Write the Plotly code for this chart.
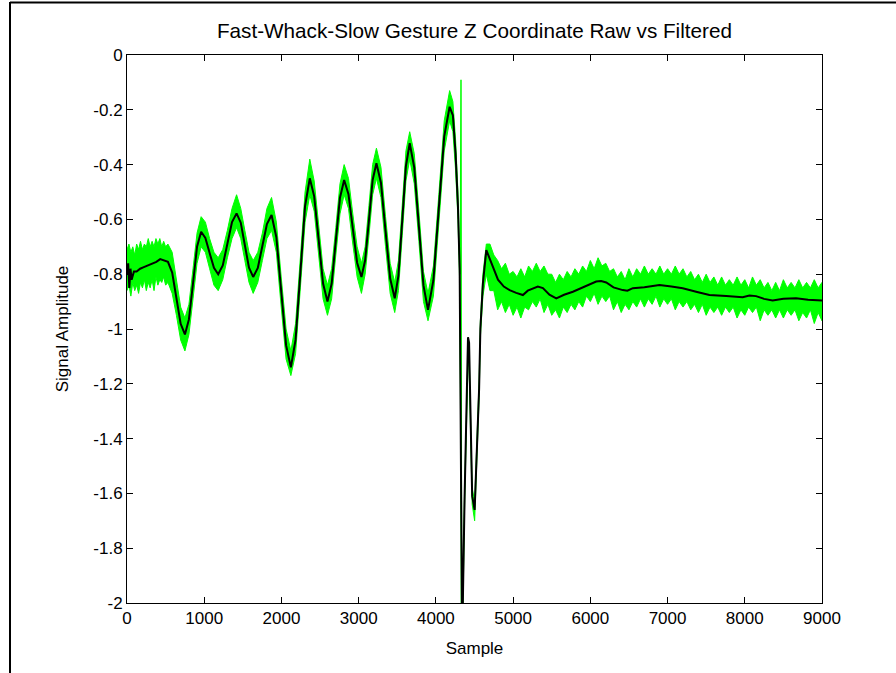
import plotly.graph_objects as go

# ---- Filtered (smoothed) Z coordinate: sample index and amplitude ----
filt_sample = [0, 15, 30, 45, 60, 90, 125, 170, 210, 250, 300, 340, 380, 430, 480,
               530, 585, 640, 695, 750, 802, 855, 907, 960, 1015, 1070, 1126, 1181,
               1240, 1300, 1360, 1419, 1473, 1526, 1580, 1634, 1694, 1753, 1812, 1872,
               1934, 1997, 2060, 2122, 2183, 2245, 2306, 2367, 2424, 2482, 2539, 2596,
               2650, 2704, 2758, 2812, 2868, 2924, 2980, 3036, 3084, 3133, 3181, 3230,
               3289, 3348, 3408, 3467, 3515, 3564, 3612, 3661, 3720, 3780, 3839, 3898,
               3968, 4038, 4108, 4178, 4220, 4255, 4286, 4308, 4325, 4340, 4372, 4394,
               4416, 4430, 4470, 4502, 4530, 4560, 4576, 4609, 4653, 4718, 4760, 4804,
               4880, 4955, 5040, 5127, 5190, 5256, 5320, 5386, 5470, 5559, 5660, 5774,
               5920, 6076, 6140, 6206, 6300, 6420, 6480, 6550, 6700, 6895, 7050, 7197,
               7370, 7542, 7760, 7973, 8060, 8146, 8250, 8361, 8500, 8664, 8820, 9000]
filt_value = [-0.80, -0.76, -0.85, -0.78, -0.82, -0.79, -0.79, -0.78, -0.775, -0.77,
              -0.765, -0.76, -0.755, -0.745, -0.75, -0.755, -0.794, -0.888, -0.981,
              -1.02, -0.965, -0.833, -0.700, -0.645, -0.668, -0.723, -0.777, -0.80,
              -0.768, -0.689, -0.610, -0.578, -0.612, -0.694, -0.776, -0.81, -0.777,
              -0.697, -0.617, -0.584, -0.665, -0.862, -1.059, -1.14, -1.039, -0.795,
              -0.551, -0.45, -0.516, -0.675, -0.834, -0.90, -0.835, -0.678, -0.521,
              -0.456, -0.508, -0.633, -0.758, -0.81, -0.749, -0.603, -0.456, -0.395,
              -0.467, -0.642, -0.816, -0.888, -0.805, -0.605, -0.405, -0.322, -0.411,
              -0.626, -0.841, -0.93, -0.822, -0.560, -0.297, -0.189, -0.22, -0.36,
              -0.553, -0.785, -1.5, -2.15, -1.61, -1.33, -1.03, -1.05, -1.61, -1.66,
              -1.466, -1.216, -1.0, -0.833, -0.712, -0.76, -0.795, -0.82, -0.845,
              -0.858, -0.868, -0.876, -0.86, -0.851, -0.845, -0.851, -0.875, -0.888,
              -0.875, -0.864, -0.845, -0.827, -0.825, -0.83, -0.848, -0.858, -0.86,
              -0.851, -0.848, -0.839, -0.845, -0.851, -0.864, -0.876, -0.88, -0.884,
              -0.878, -0.88, -0.89, -0.896, -0.89, -0.888, -0.893, -0.896]

# ---- Raw Z coordinate: upper / lower extent of the noisy signal ----
raw_sample = [0, 25, 50, 75, 100, 125, 150, 175, 200, 225, 250, 275, 300, 325, 350,
              375, 400, 425, 450, 475, 500, 530, 585, 640, 695, 750, 802, 855, 907,
              960, 1015, 1070, 1126, 1181, 1240, 1300, 1360, 1419, 1473, 1526, 1580,
              1634, 1694, 1753, 1812, 1872, 1934, 1997, 2060, 2122, 2183, 2245, 2306,
              2367, 2424, 2482, 2539, 2596, 2650, 2704, 2758, 2812, 2868, 2924, 2980,
              3036, 3084, 3133, 3181, 3230, 3289, 3348, 3408, 3467, 3515, 3564, 3612,
              3661, 3720, 3780, 3839, 3898, 3968, 4038, 4108, 4178, 4220, 4255, 4286,
              4308, 4325, 4340, 4372, 4394, 4416, 4430, 4470, 4502, 4530, 4560, 4576,
              4609, 4653, 4700, 4750, 4800, 4850, 4900, 4950, 5000, 5050, 5100, 5150,
              5200, 5250, 5300, 5350, 5400, 5450, 5500, 5550, 5600, 5650, 5700, 5750,
              5800, 5850, 5900, 5950, 6000, 6050, 6100, 6150, 6200, 6250, 6300, 6350,
              6400, 6450, 6500, 6550, 6600, 6650, 6700, 6750, 6800, 6850, 6900, 6950,
              7000, 7050, 7100, 7150, 7200, 7250, 7300, 7350, 7400, 7450, 7500, 7550,
              7600, 7650, 7700, 7750, 7800, 7850, 7900, 7950, 8000, 8050, 8100, 8150,
              8200, 8250, 8300, 8350, 8400, 8450, 8500, 8550, 8600, 8650, 8700, 8750,
              8800, 8850, 8900, 8950, 9000]
raw_high = [-0.71, -0.69, -0.72, -0.70, -0.73, -0.69, -0.71, -0.68, -0.71, -0.69, -0.70,
            -0.67, -0.70, -0.68, -0.70, -0.67, -0.69, -0.67, -0.70, -0.68, -0.70, -0.69,
            -0.72, -0.82, -0.92, -0.96, -0.91, -0.78, -0.65, -0.59, -0.61, -0.67, -0.72,
            -0.74, -0.71, -0.64, -0.56, -0.51, -0.56, -0.64, -0.72, -0.75, -0.72, -0.65,
            -0.56, -0.52, -0.61, -0.81, -1.00, -1.08, -0.98, -0.74, -0.50, -0.38, -0.46,
            -0.62, -0.78, -0.84, -0.78, -0.63, -0.47, -0.40, -0.45, -0.58, -0.70, -0.76,
            -0.70, -0.55, -0.40, -0.34, -0.41, -0.59, -0.76, -0.83, -0.75, -0.55, -0.35,
            -0.28, -0.36, -0.57, -0.79, -0.87, -0.77, -0.51, -0.24, -0.13, -0.17, -0.31,
            -0.50, -0.74, -1.45, -2.10, -1.58, -1.30, -1.08, -1.08, -1.58, -1.63, -1.44,
            -1.19, -0.97, -0.80, -0.69, -0.69, -0.73, -0.75, -0.78, -0.76, -0.80, -0.79,
            -0.81, -0.78, -0.81, -0.77, -0.79, -0.76, -0.79, -0.77, -0.80, -0.80, -0.83,
            -0.80, -0.82, -0.79, -0.81, -0.78, -0.80, -0.77, -0.79, -0.75, -0.78, -0.74,
            -0.77, -0.76, -0.79, -0.78, -0.81, -0.79, -0.82, -0.78, -0.81, -0.78, -0.80,
            -0.77, -0.80, -0.78, -0.80, -0.77, -0.80, -0.78, -0.80, -0.77, -0.80, -0.78,
            -0.81, -0.79, -0.82, -0.80, -0.83, -0.80, -0.83, -0.81, -0.84, -0.81, -0.84,
            -0.82, -0.84, -0.81, -0.84, -0.82, -0.85, -0.81, -0.84, -0.82, -0.85, -0.83,
            -0.86, -0.83, -0.86, -0.82, -0.85, -0.83, -0.85, -0.82, -0.85, -0.83, -0.85,
            -0.82, -0.85, -0.83]
raw_low = [-0.86, -0.84, -0.88, -0.83, -0.86, -0.84, -0.87, -0.83, -0.85, -0.82, -0.86,
           -0.83, -0.85, -0.82, -0.86, -0.81, -0.84, -0.82, -0.83, -0.81, -0.84, -0.83,
           -0.87, -0.95, -1.04, -1.08, -1.02, -0.89, -0.76, -0.70, -0.72, -0.78, -0.84,
           -0.86, -0.82, -0.74, -0.67, -0.63, -0.67, -0.75, -0.83, -0.87, -0.83, -0.75,
           -0.67, -0.64, -0.72, -0.92, -1.11, -1.17, -1.09, -0.85, -0.61, -0.51, -0.57,
           -0.73, -0.89, -0.95, -0.89, -0.73, -0.58, -0.51, -0.56, -0.69, -0.81, -0.87,
           -0.80, -0.66, -0.51, -0.45, -0.52, -0.70, -0.87, -0.94, -0.86, -0.66, -0.46,
           -0.38, -0.47, -0.68, -0.90, -0.97, -0.88, -0.62, -0.35, -0.24, -0.28, -0.42,
           -0.60, -0.83, -1.55, -2.20, -1.64, -1.36, -1.12, -1.14, -1.64, -1.70, -1.50,
           -1.25, -1.03, -0.88, -0.80, -0.86, -0.86, -0.93, -0.90, -0.94, -0.91, -0.95,
           -0.92, -0.96, -0.92, -0.93, -0.90, -0.92, -0.89, -0.94, -0.91, -0.95, -0.93,
           -0.96, -0.92, -0.94, -0.91, -0.93, -0.90, -0.92, -0.88, -0.90, -0.87, -0.91,
           -0.88, -0.90, -0.88, -0.93, -0.90, -0.94, -0.91, -0.93, -0.90, -0.92, -0.89,
           -0.92, -0.89, -0.91, -0.88, -0.92, -0.89, -0.91, -0.89, -0.93, -0.90, -0.92,
           -0.90, -0.93, -0.91, -0.94, -0.91, -0.95, -0.92, -0.94, -0.92, -0.95, -0.92,
           -0.94, -0.92, -0.96, -0.93, -0.95, -0.92, -0.94, -0.92, -0.97, -0.93, -0.95,
           -0.93, -0.96, -0.93, -0.96, -0.93, -0.95, -0.93, -0.97, -0.94, -0.96, -0.93,
           -0.98, -0.94, -0.97]

# Single-sample raw spike at the moment of the whack
spike_sample = [4318, 4325, 4331]
spike_value = [-0.80, -0.09, -2.20]

# ---- Axis ticks ----
x_ticks = [0, 1000, 2000, 3000, 4000, 5000, 6000, 7000, 8000, 9000]
x_labels = ["0", "1000", "2000", "3000", "4000", "5000", "6000", "7000", "8000", "9000"]
y_ticks = [0, -0.2, -0.4, -0.6, -0.8, -1, -1.2, -1.4, -1.6, -1.8, -2]
y_labels = ["0", "-0.2", "-0.4", "-0.6", "-0.8", "-1", "-1.2", "-1.4", "-1.6", "-1.8", "-2"]

GREEN = "#00FF00"
FONT = "Liberation Sans, Arial, sans-serif"

fig = go.Figure()

# Raw signal drawn as a filled band between its upper and lower extent
fig.add_trace(go.Scatter(
    x=raw_sample + raw_sample[::-1],
    y=raw_high + raw_low[::-1],
    fill="toself", fillcolor=GREEN,
    line=dict(color=GREEN, width=1),
    mode="lines", hoverinfo="skip", name="Raw",
))
fig.add_trace(go.Scatter(
    x=spike_sample, y=spike_value, mode="lines",
    line=dict(color=GREEN, width=1.5), name="Raw spike", hoverinfo="skip",
))
# Filtered signal
fig.add_trace(go.Scatter(
    x=filt_sample, y=filt_value, mode="lines",
    line=dict(color="black", width=2), name="Filtered",
))

axis_common = dict(
    showgrid=False, zeroline=False, showline=True, linecolor="black", linewidth=1,
    mirror="ticks", ticks="inside", ticklen=6, tickcolor="black", tickwidth=1,
    tickfont=dict(family=FONT, size=17, color="black"),
)

fig.update_layout(
    width=896, height=673,
    margin=dict(l=127, r=74, t=55, b=70),
    paper_bgcolor="white", plot_bgcolor="white",
    showlegend=False,
    title=dict(
        text="Fast-Whack-Slow Gesture Z Coordinate Raw vs Filtered",
        font=dict(family=FONT, size=20.7, color="black"),
        x=0.5295, xanchor="center", y=1 - 31 / 673, yanchor="middle",
    ),
    xaxis=dict(
        range=[0, 9000], tickvals=x_ticks, ticktext=x_labels,
        title=dict(text="Sample", font=dict(family=FONT, size=17, color="black"), standoff=14),
        **axis_common,
    ),
    yaxis=dict(
        range=[-2, 0], tickvals=y_ticks, ticktext=y_labels,
        title=dict(text="Signal Amplitude", font=dict(family=FONT, size=17, color="black"), standoff=20),
        **axis_common,
    ),
    shapes=[
        # window frame: top and left edges
        dict(type="line", xref="paper", yref="paper", x0=(10 - 127) / 695, x1=(896 - 127) / 695,
             y0=(603 - 2.5) / 548, y1=(603 - 2.5) / 548, line=dict(color="black", width=2)),
        dict(type="line", xref="paper", yref="paper", x0=(10 - 127) / 695, x1=(10 - 127) / 695,
             y0=(603 - 2) / 548, y1=(603 - 673) / 548, line=dict(color="black", width=2)),
    ],
)

fig.write_html("out.html")
